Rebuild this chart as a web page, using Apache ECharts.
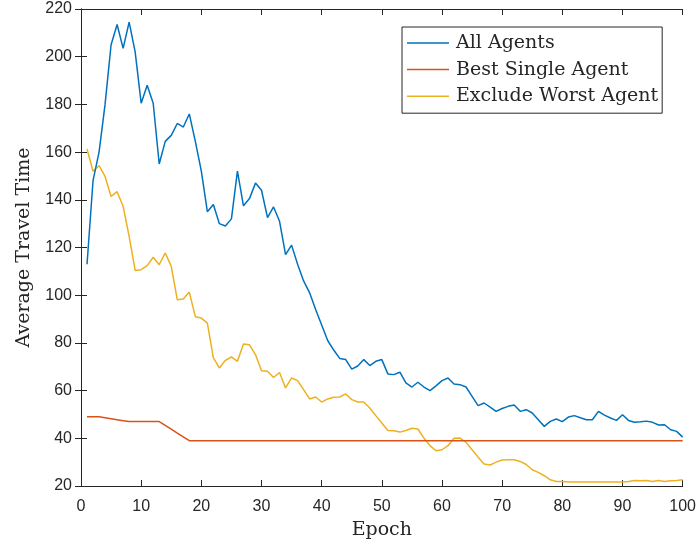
<!DOCTYPE html>
<html>
<head>
<meta charset="utf-8">
<script src="https://cdn.jsdelivr.net/npm/echarts@6/dist/echarts.min.js"></script>
<style>html,body{margin:0;padding:0;background:#fff;}#chart{width:699px;height:545px;}</style>
</head>
<body>
<div id="chart"></div>
<script>
const seriesNames = ['All Agents', 'Best Single Agent', 'Exclude Worst Agent'];
const xTicks = [0, 10, 20, 30, 40, 50, 60, 70, 80, 90, 100];
const yTicks = [20, 40, 60, 80, 100, 120, 140, 160, 180, 200, 220];

const allAgents = [
  113, 148, 160, 180, 205, 213.5, 203.5, 214.5, 202, 180.5,
  188, 180.5, 155, 164.5, 167, 172, 170.5, 176, 164.5, 152,
  135, 138, 130, 129, 132, 152, 137.5, 140.5, 147, 144,
  132.5, 137, 131, 117, 121, 113, 106, 101, 94, 87.5,
  81, 77, 73.5, 73, 69, 70.3, 73, 70.5, 72.3, 73,
  67, 66.7, 67.7, 63.2, 61.5, 63.5, 61.5, 60, 62, 64.2,
  65.3, 62.8, 62.5, 61.5, 57.6, 53.7, 54.8, 53.1, 51.3, 52.5,
  53.4, 54, 51.3, 52, 50.6, 47.8, 45, 47.1, 48.1, 47,
  48.9, 49.5, 48.6, 47.8, 47.8, 51.3, 49.7, 48.5, 47.5, 49.9,
  47.5, 46.7, 46.9, 47.2, 46.7, 45.6, 45.7, 43.6, 42.9, 40.5
];

const bestSingle = [
  49, 49, 49, 48.6, 48.2, 47.8, 47.4, 47, 47, 47,
  47, 47, 47, 45.4, 43.8, 42.2, 40.6, 39, 39, 39,
  39, 39, 39, 39, 39, 39, 39, 39, 39, 39,
  39, 39, 39, 39, 39, 39, 39, 39, 39, 39,
  39, 39, 39, 39, 39, 39, 39, 39, 39, 39,
  39, 39, 39, 39, 39, 39, 39, 39, 39, 39,
  39, 39, 39, 39, 39, 39, 39, 39, 39, 39,
  39, 39, 39, 39, 39, 39, 39, 39, 39, 39,
  39, 39, 39, 39, 39, 39, 39, 39, 39, 39,
  39, 39, 39, 39, 39, 39, 39, 39, 39, 39
];

const excludeWorst = [
  161.3, 152, 154.3, 149.8, 141.4, 143.4, 137.3, 124.7, 110.4, 110.7,
  112.4, 115.9, 112.8, 117.7, 112.1, 98.1, 98.4, 101.3, 91, 90.4,
  88.3, 73.7, 69.5, 72.7, 74.1, 72.3, 79.5, 79.2, 75.1, 68.3,
  68.1, 65.5, 67.6, 61.1, 65.3, 64.2, 60.4, 56.5, 57.3, 55.2,
  56.5, 57.2, 57.3, 58.6, 56.2, 55.2, 55.2, 52.7, 49.5, 46.4,
  43.3, 43.2, 42.6, 43.3, 44.2, 43.9, 40.1, 36.9, 34.8, 35.2,
  36.9, 40, 40.1, 38.3, 35.2, 32.1, 29.2, 28.8, 30, 30.9,
  31, 31, 30.3, 29, 26.8, 25.7, 24.3, 22.6, 21.9, 21.9,
  21.7, 21.7, 21.7, 21.7, 21.7, 21.7, 21.7, 21.7, 21.7, 21.7,
  21.9, 22.3, 22.2, 22.3, 21.9, 22.3, 21.9, 22.2, 22.3, 22.6
];

const colors = ['#0072BD', '#D95319', '#EDB120'];
const axisColor = '#262626';

function pairs(arr) { return arr.map((v, i) => [i + 1, v]); }

const chart = echarts.init(document.getElementById('chart'), null, { renderer: 'canvas' });

const tickLabelFont = { fontFamily: 'Liberation Sans', fontSize: 16, color: axisColor };
const nameFont = { fontFamily: 'DejaVu Serif', fontSize: 19, color: axisColor };

function baseAxis(extra) {
  return Object.assign({
    type: 'value',
    axisLine: { show: true, lineStyle: { color: axisColor, width: 1 } },
    axisTick: { show: true, inside: true, length: 6, lineStyle: { color: axisColor, width: 1 } },
    splitLine: { show: false }
  }, extra);
}

const option = {
  backgroundColor: '#ffffff',
  animation: false,
  color: colors,
  grid: { left: 81, top: 9, width: 605, height: 477, containLabel: false },
  legend: {
    data: seriesNames,
    orient: 'vertical',
    left: 402,
    top: 27,
    padding: [6, 4, 7, 5],
    itemGap: 6.6,
    icon: 'rect',
    itemWidth: 42,
    itemHeight: 1.5,
    borderColor: axisColor,
    borderWidth: 1,
    backgroundColor: '#ffffff',
    textStyle: Object.assign({}, nameFont, { lineHeight: 20, padding: [0, 0, 0, 2] })
  },
  xAxis: [
    baseAxis({
      min: xTicks[0], max: xTicks[xTicks.length - 1], interval: 10,
      position: 'bottom',
      name: 'Epoch', nameLocation: 'middle', nameGap: 35, nameTextStyle: nameFont,
      axisLabel: Object.assign({ margin: 13 }, tickLabelFont)
    }),
    baseAxis({
      min: xTicks[0], max: xTicks[xTicks.length - 1], interval: 10,
      position: 'top',
      axisLabel: { show: false }
    })
  ],
  yAxis: [
    baseAxis({
      min: yTicks[0], max: yTicks[yTicks.length - 1], interval: 20,
      position: 'left',
      name: 'Average Travel Time', nameLocation: 'middle', nameGap: 47, nameRotate: 90,
      nameTextStyle: nameFont,
      axisLabel: Object.assign({ margin: 9 }, tickLabelFont)
    }),
    baseAxis({
      min: yTicks[0], max: yTicks[yTicks.length - 1], interval: 20,
      position: 'right',
      axisLabel: { show: false }
    })
  ],
  series: [
    { name: seriesNames[0], type: 'line', data: pairs(allAgents), symbol: 'none', showSymbol: false,
      lineStyle: { color: colors[0], width: 1.5 }, itemStyle: { color: colors[0] }, z: 3 },
    { name: seriesNames[1], type: 'line', data: pairs(bestSingle), symbol: 'none', showSymbol: false,
      lineStyle: { color: colors[1], width: 1.5 }, itemStyle: { color: colors[1] }, z: 2 },
    { name: seriesNames[2], type: 'line', data: pairs(excludeWorst), symbol: 'none', showSymbol: false,
      lineStyle: { color: colors[2], width: 1.5 }, itemStyle: { color: colors[2] }, z: 1 }
  ]
};

chart.setOption(option);
</script>
</body>
</html>
